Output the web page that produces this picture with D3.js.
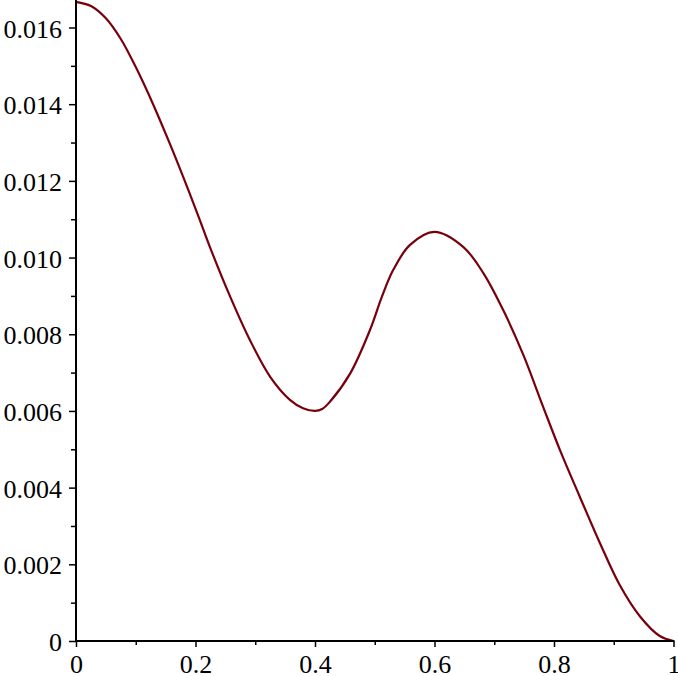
<!DOCTYPE html>
<html>
<head>
<meta charset="utf-8">
<script src="https://cdn.jsdelivr.net/npm/d3@7"></script>
<style>
  html, body { margin: 0; padding: 0; background: #fff; }
  svg { display: block; }
  .tick text { font-family: "Liberation Serif", "Times New Roman", serif; font-size: 26px; fill: #000; }
</style>
</head>
<body>
<svg id="chart" width="678" height="676"></svg>
<script>
// ---- data ----
const xValues = [0, 0.025, 0.05, 0.075, 0.099, 0.129, 0.157, 0.182, 0.206, 0.224, 0.258, 0.291, 0.325, 0.358, 0.38, 0.4,
                 0.412, 0.425, 0.459, 0.492, 0.512, 0.531, 0.559, 0.6, 0.648, 0.682, 0.715, 0.749, 0.782,
                 0.810, 0.843, 0.877, 0.910, 0.944, 0.977, 1];
const yValues = [0.01667, 0.01656, 0.01624, 0.0157, 0.0150, 0.0140, 0.01297, 0.0120, 0.01103, 0.01028, 0.00898, 0.00785, 0.00689, 0.00629, 0.00607, 0.0060,
                 0.00605, 0.00624, 0.00698, 0.00811, 0.00898, 0.00968, 0.01033, 0.01067, 0.01028, 0.00959, 0.00863, 0.00745, 0.0061,
                 0.00498, 0.00377, 0.00255, 0.00146, 0.00064, 0.00013, 0];

const xMajorTicks = [0, 0.2, 0.4, 0.6, 0.8, 1];
const xMinorTicks = [0.1, 0.3, 0.5, 0.7, 0.9];
const xTickLabels = ["0", "0.2", "0.4", "0.6", "0.8", "1"];
const yMajorTicks = [0, 0.002, 0.004, 0.006, 0.008, 0.010, 0.012, 0.014, 0.016];
const yMinorTicks = [0.001, 0.003, 0.005, 0.007, 0.009, 0.011, 0.013, 0.015];
const yTickLabels = ["0", "0.002", "0.004", "0.006", "0.008", "0.010", "0.012", "0.014", "0.016"];

const data = xValues.map((x, i) => ({ x, y: yValues[i] }));

const svg = d3.select("#chart");
const x = d3.scaleLinear().domain([0, 1]).range([76, 673.5]);
const y = d3.scaleLinear().domain([0, 0.016]).range([641, 27.5]);

// curve
svg.append("path")
  .datum(data)
  .attr("fill", "none")
  .attr("stroke", "#78000c")
  .attr("stroke-width", 2.2)
  .attr("d", d3.line().x(d => x(d.x)).y(d => y(d.y)).curve(d3.curveCatmullRom.alpha(0.5)));

// x axis
const xAxis = svg.append("g").attr("transform", `translate(0,${y(0)})`)
  .call(d3.axisBottom(x).tickValues(xMajorTicks).tickSize(6).tickSizeOuter(0)
    .tickFormat((d, i) => xTickLabels[i]));
xAxis.select(".domain").remove();
xAxis.selectAll(".tick line").attr("stroke", "#000").attr("stroke-width", 1.5);
xAxis.selectAll(".tick text").attr("y", 0).attr("dy", "32px");
svg.append("g").attr("transform", `translate(0,${y(0)})`)
  .call(d3.axisBottom(x).tickValues(xMinorTicks).tickSize(4).tickFormat(""))
  .call(g => g.select(".domain").remove())
  .selectAll(".tick line").attr("stroke", "#000").attr("stroke-width", 1.5);

// y axis
const yAxis = svg.append("g").attr("transform", `translate(${x(0)},0)`)
  .call(d3.axisLeft(y).tickValues(yMajorTicks).tickSize(7).tickSizeOuter(0)
    .tickFormat((d, i) => yTickLabels[i]));
yAxis.select(".domain").remove();
yAxis.selectAll(".tick line").attr("stroke", "#000").attr("stroke-width", 1.5);
yAxis.selectAll(".tick text").attr("x", -14).attr("dy", "9.5px");
svg.append("g").attr("transform", `translate(${x(0)},0)`)
  .call(d3.axisLeft(y).tickValues(yMinorTicks).tickSize(5).tickFormat(""))
  .call(g => g.select(".domain").remove())
  .selectAll(".tick line").attr("stroke", "#000").attr("stroke-width", 1.5);

// axis lines
svg.append("line").attr("x1", x(0)).attr("x2", x(1) + 1).attr("y1", y(0)).attr("y2", y(0))
  .attr("stroke", "#000").attr("stroke-width", 2);
svg.append("line").attr("x1", x(0)).attr("x2", x(0)).attr("y1", y(0) + 1).attr("y2", 0)
  .attr("stroke", "#000").attr("stroke-width", 2);
</script>
</body>
</html>
